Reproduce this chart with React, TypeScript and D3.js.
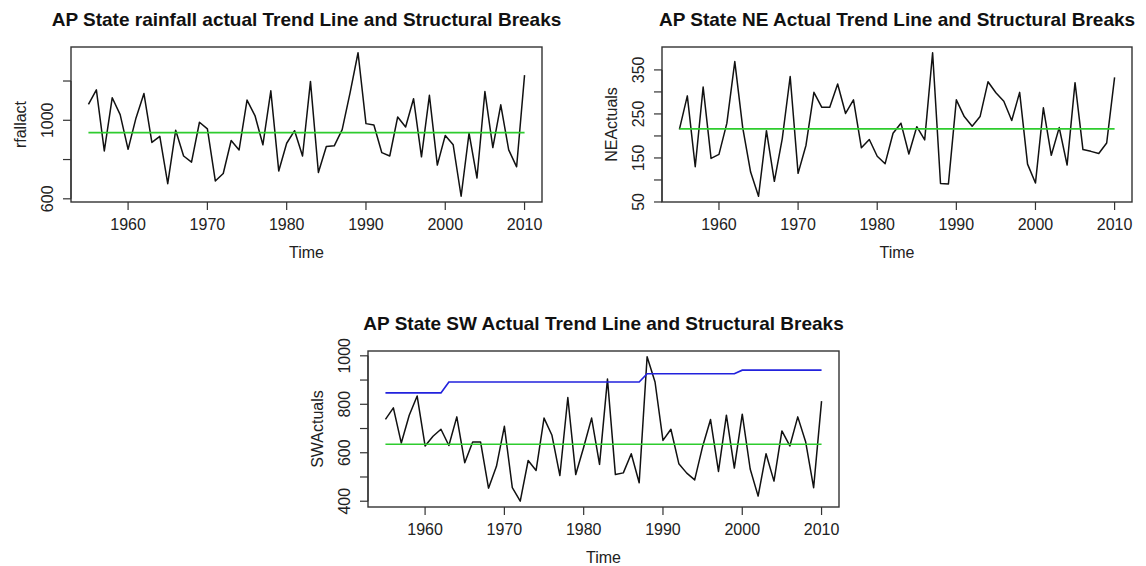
import * as d3 from 'd3';

const years = d3.range(1955, 2011);

const rfallact = [
  1081, 1155, 844, 1115, 1029, 852, 1012, 1136, 887, 918,
  677, 949, 818, 787, 990, 956, 691, 729, 897, 849,
  1103, 1024, 875, 1150, 742, 883, 947, 818, 1198, 734,
  866, 870, 952, 1141, 1344, 983, 976, 835, 818, 1017,
  966, 1110, 814, 1127, 772, 923, 875, 613, 935, 706,
  1146, 861, 1079, 849, 763, 1230,
];
const rfTrend = 937;

const neActuals = [
  215, 291, 130, 311, 149, 158, 229, 369, 219, 118,
  63, 212, 97, 194, 335, 115, 179, 299, 265, 265,
  318, 251, 282, 173, 192, 154, 137, 206, 229, 159,
  221, 191, 389, 92, 91, 282, 244, 222, 244, 323,
  298, 279, 235, 299, 136, 93, 264, 156, 219, 134,
  321, 169, 165, 160, 184, 333,
];
const neTrend = 216;

const swActuals = [
  738, 785, 640, 755, 834, 628, 668, 697, 630, 748,
  559, 644, 644, 454, 544, 709, 456, 400, 568, 527,
  743, 672, 506, 828, 510, 623, 743, 552, 904, 510,
  517, 596, 476, 996, 892, 651, 697, 555, 516, 488,
  626, 737, 523, 755, 537, 759, 533, 421, 596, 483,
  690, 628, 748, 644, 456, 813,
];
const swTrend = 635;
// structural break segments: [first year, last year, fitted level]
const swBreaks: [number, number, number][] = [
  [1955, 1962, 847],
  [1963, 1987, 892],
  [1988, 1999, 926],
  [2000, 2010, 941],
];

const xTicks = [1960, 1970, 1980, 1990, 2000, 2010];
const rfTicks = [600, 800, 1000, 1200];
const rfLabels = [600, 1000];
const neTicks = [50, 100, 150, 200, 250, 300, 350];
const neLabels = [50, 150, 250, 350];
const swTicks = [400, 500, 600, 700, 800, 900, 1000];
const swLabels = [400, 600, 800, 1000];

const FONT = '"Liberation Sans", Arial, Helvetica, sans-serif';

type PanelProps = {
  title: string;
  ylab: string;
  values: number[];
  trend: number;
  yTicks: number[];
  yLabels: number[];
  box: { x0: number; x1: number; y0: number; y1: number };
  steps?: [number, number, number][];
};

// R-style 4% padding around the data range
function padded(lo: number, hi: number): [number, number] {
  const p = (hi - lo) * 0.04;
  return [lo - p, hi + p];
}

function Panel({ title, ylab, values, trend, yTicks, yLabels, box, steps }: PanelProps) {
  const x = d3
    .scaleLinear()
    .domain(padded(years[0], years[years.length - 1]))
    .range([box.x0, box.x1]);
  const [lo, hi] = d3.extent(values) as [number, number];
  const y = d3.scaleLinear().domain(padded(lo, hi)).range([box.y1, box.y0]);

  const line = d3
    .line<number>()
    .x((_, i) => x(years[i]))
    .y(d => y(d));

  const stepPts: [number, number][] = [];
  (steps || []).forEach(([a, b, v]) => {
    stepPts.push([a, v], [b, v]);
  });
  const stepLine = d3
    .line<[number, number]>()
    .x(d => x(d[0]))
    .y(d => y(d[1]));

  const cx = (box.x0 + box.x1) / 2;
  const cy = (box.y0 + box.y1) / 2;
  const tick = 8;

  return (
    <g fontFamily={FONT}>
      <text x={cx} y={box.y0 - 21} textAnchor="middle" fontSize={19} fontWeight="bold" fill="#111">
        {title}
      </text>
      <rect
        x={box.x0}
        y={box.y0}
        width={box.x1 - box.x0}
        height={box.y1 - box.y0}
        fill="none"
        stroke="#333"
        strokeWidth={1.4}
      />
      {/* x axis */}
      {xTicks.map(t => (
        <g key={t}>
          <line x1={x(t)} x2={x(t)} y1={box.y1} y2={box.y1 + tick} stroke="#333" strokeWidth={1.2} />
          <text x={x(t)} y={box.y1 + 28} textAnchor="middle" fontSize={16} fill="#222">
            {t}
          </text>
        </g>
      ))}
      <text x={cx} y={box.y1 + 56} textAnchor="middle" fontSize={16} fill="#222">
        Time
      </text>
      {/* y axis */}
      <line
        x1={box.x0}
        x2={box.x0}
        y1={y(yTicks[0])}
        y2={y(yTicks[yTicks.length - 1])}
        stroke="#333"
        strokeWidth={1.2}
      />
      {yTicks.map(t => (
        <line key={t} x1={box.x0 - tick} x2={box.x0} y1={y(t)} y2={y(t)} stroke="#333" strokeWidth={1.2} />
      ))}
      {yLabels.map(t => (
        <text
          key={t}
          transform={`translate(${box.x0 - 18},${y(t)}) rotate(-90)`}
          textAnchor="middle"
          fontSize={16}
          fill="#222"
        >
          {t}
        </text>
      ))}
      <text
        transform={`translate(${box.x0 - 45},${cy}) rotate(-90)`}
        textAnchor="middle"
        fontSize={16}
        fill="#222"
      >
        {ylab}
      </text>
      {/* series */}
      <path d={line(values) || ''} fill="none" stroke="#111" strokeWidth={1.5} strokeLinejoin="round" />
      <line
        x1={x(years[0])}
        x2={x(years[years.length - 1])}
        y1={y(trend)}
        y2={y(trend)}
        stroke="#2ecc2e"
        strokeWidth={1.7}
      />
      {stepPts.length > 0 && (
        <path d={stepLine(stepPts) || ''} fill="none" stroke="#2222dd" strokeWidth={1.7} />
      )}
    </g>
  );
}

export default function App() {
  return (
    <svg
      width={1146}
      height={566}
      style={{ position: 'absolute', left: 0, top: 0, background: '#fff' }}
    >
      <Panel
        title="AP State rainfall actual Trend Line and Structural Breaks"
        ylab="rfallact"
        values={rfallact}
        trend={rfTrend}
        yTicks={rfTicks}
        yLabels={rfLabels}
        box={{ x0: 71, x1: 542, y0: 47, y1: 202 }}
      />
      <Panel
        title="AP State NE Actual Trend Line and Structural Breaks"
        ylab="NEActuals"
        values={neActuals}
        trend={neTrend}
        yTicks={neTicks}
        yLabels={neLabels}
        box={{ x0: 662, x1: 1132, y0: 47, y1: 202 }}
      />
      <Panel
        title="AP State SW Actual Trend Line and Structural Breaks"
        ylab="SWActuals"
        values={swActuals}
        trend={swTrend}
        yTicks={swTicks}
        yLabels={swLabels}
        box={{ x0: 368, x1: 839, y0: 351, y1: 507 }}
        steps={swBreaks}
      />
    </svg>
  );
}
